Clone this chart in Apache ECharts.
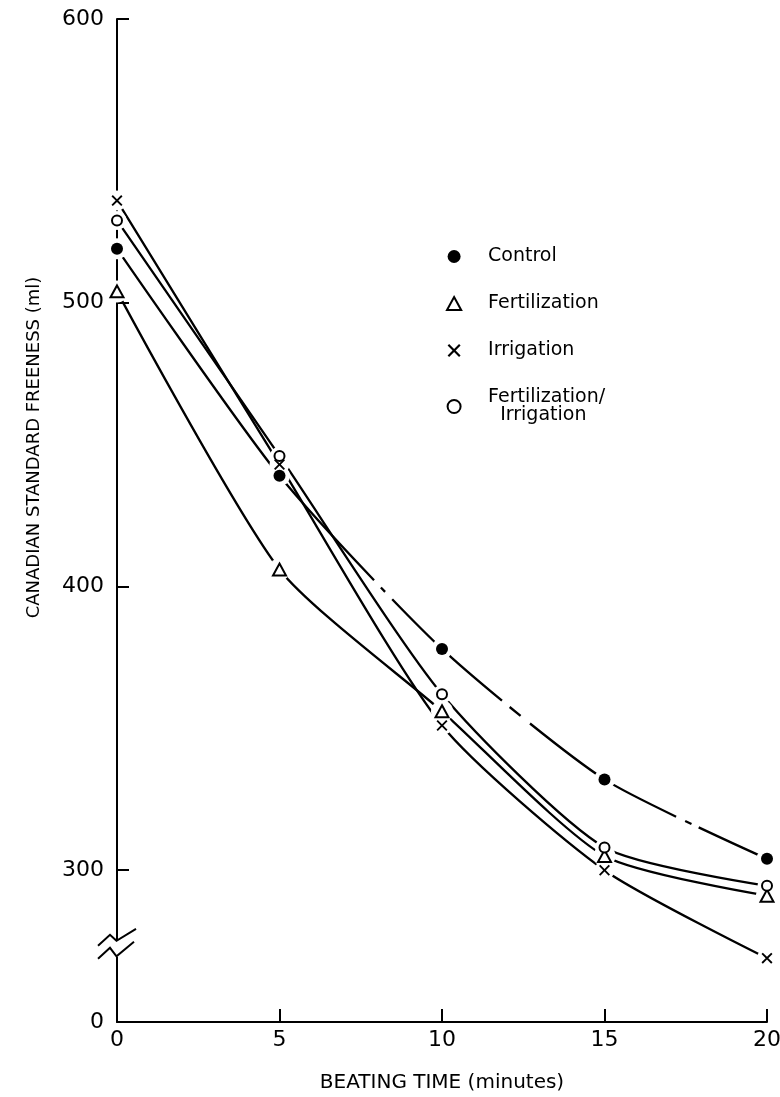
<!DOCTYPE html>
<html>
<head>
<meta charset="utf-8">
<script src="https://cdn.jsdelivr.net/npm/echarts@6/dist/echarts.min.js"></script>
<style>
html,body{margin:0;padding:0;background:#fff;}
#chart{width:780px;height:1097px;}
</style>
</head>
<body>
<div id="chart"></div>
<script>
// ---- data ----
const minutes = [0, 5, 10, 15, 20];
const control = [519, 439, 378, 332, 304];
const fertilization = [504, 406, 356, 305, 291];
const irrigation = [536, 443, 351, 300, 269];
const fertIrrigation = [529, 446, 362, 308, 294.5];

const xTicks = [0, 5, 10, 15, 20];
const yTicks = [300, 400, 500, 600];
const yFloor = 246.5;          // broken axis: bottom of the axis is labelled "0"
const yFloorLabel = '0';
const yBreakValue = 273;       // where the break symbol sits on the axis

const seriesNames = ['Control', 'Fertilization', 'Irrigation', 'Fertilization/Irrigation'];
const seriesValues = [control, fertilization, irrigation, fertIrrigation];

const FONT = 'DejaVu Sans';
const xPath = 'path://M0,1.2L1.2,0L5,3.8L8.8,0L10,1.2L6.2,5L10,8.8L8.8,10L5,6.2L1.2,10L0,8.8L3.8,5Z';
const triPath = 'path://M6,0L12,11L0,11Z';

const markerStyle = [
  { symbol: 'circle', legendIcon: 'circle', size: 12, itemStyle: { color: '#000', borderWidth: 0, opacity: 1 } },
  { symbol: triPath, legendIcon: triPath, size: 13, itemStyle: { color: '#fff', borderColor: '#000', borderWidth: 2, opacity: 1 } },
  { symbol: xPath, legendIcon: xPath, size: 11, itemStyle: { color: '#000', borderWidth: 0, opacity: 1 } },
  { symbol: 'circle', legendIcon: 'circle', size: 10, itemStyle: { color: '#fff', borderColor: '#000', borderWidth: 2, opacity: 1 } }
];
// control curve: hand-drawn dash–dot breaks
const lineTypes = [[420, 10, 6, 10, 150, 10, 14, 12, 174, 10, 7, 8, 300], 'solid', 'solid', 'solid'];

function pairs(vals) { return minutes.map((m, i) => [m, vals[i]]); }

const series = [];
seriesNames.forEach((name, i) => {
  series.push({
    type: 'line', name: name, data: pairs(seriesValues[i]),
    symbol: 'none', showSymbol: false, smooth: 0.22, z: 2, silent: true,
    lineStyle: { color: '#000', width: 2.3, type: lineTypes[i] }
  });
});
seriesNames.forEach((name, i) => {
  series.push({
    type: 'scatter', name: '_halo' + i, data: pairs(seriesValues[i]),
    symbol: 'circle', symbolSize: markerStyle[i].size + 9, z: 3, silent: true,
    itemStyle: { color: '#fff', borderWidth: 0, opacity: 1 }
  });
});
seriesNames.forEach((name, i) => {
  series.push({
    type: 'scatter', name: name, data: pairs(seriesValues[i]),
    symbol: markerStyle[i].symbol, symbolSize: markerStyle[i].size, symbolKeepAspect: true,
    z: 4, silent: true, itemStyle: markerStyle[i].itemStyle
  });
});

const chart = echarts.init(document.getElementById('chart'), null, { renderer: 'canvas' });
const option = {
  animation: false,
  backgroundColor: '#fff',
  textStyle: { fontFamily: FONT, color: '#000' },
  grid: { left: 117, right: 13, top: 19, bottom: 75, containLabel: false, outerBoundsMode: 'none' },
  legend: {
    orient: 'vertical', left: 441, top: 242, padding: 5,
    itemWidth: 58, itemHeight: 13, itemGap: 28, align: 'left',
    selectedMode: false, symbolKeepAspect: true,
    textStyle: { fontFamily: FONT, fontSize: 19, color: '#000', lineHeight: 18 },
    formatter: n => (n === 'Fertilization/Irrigation' ? 'Fertilization/\n  Irrigation' : n),
    data: seriesNames.map((n, i) => ({
      name: n, icon: markerStyle[i].legendIcon,
      itemStyle: Object.assign({}, markerStyle[i].itemStyle)
    }))
  },
  xAxis: {
    type: 'value', min: 0, max: 20,
    name: 'BEATING TIME (minutes)', nameLocation: 'middle', nameGap: 51,
    nameTextStyle: { fontFamily: FONT, fontSize: 20, color: '#000' },
    axisLine: { show: true, lineStyle: { color: '#000', width: 2 } },
    axisTick: { show: true, inside: true, length: 13, lineStyle: { color: '#000', width: 2 }, customValues: xTicks },
    axisLabel: { show: true, margin: 7, fontFamily: FONT, fontSize: 22, color: '#000', customValues: xTicks },
    splitLine: { show: false }
  },
  yAxis: {
    type: 'value', min: yFloor, max: 600,
    name: 'CANADIAN STANDARD FREENESS (ml)', nameLocation: 'middle', nameRotate: 90, nameGap: 74,
    nameTextStyle: { fontFamily: FONT, fontSize: 18, color: '#000', padding: [0, 0, 0, 146] },
    axisLine: { show: true, lineStyle: { color: '#000', width: 2 } },
    axisTick: { show: true, inside: true, length: 12, lineStyle: { color: '#000', width: 2 }, customValues: yTicks },
    axisLabel: {
      show: true, margin: 13, fontFamily: FONT, fontSize: 22, color: '#000',
      customValues: [yFloor].concat(yTicks),
      formatter: v => (v < yTicks[0] ? yFloorLabel : String(v))
    },
    splitLine: { show: false }
  },
  series: series
};
chart.setOption(option);

// break symbol on the y axis
const p = chart.convertToPixel({ gridIndex: 0 }, [0, yBreakValue]);
const cx = p[0], cy = p[1];
function pts(arr) { return arr.map(a => [cx + a[0], cy + a[1]]); }
chart.setOption({
  graphic: [
    { type: 'rect', shape: { x: cx - 3, y: cy - 6, width: 6, height: 16 }, style: { fill: '#fff' }, z: 10, silent: true },
    { type: 'polyline', shape: { points: pts([[-19, -1], [-7, -12], [-0.5, -6], [19, -18]]) },
      style: { stroke: '#000', lineWidth: 2, fill: null }, z: 11, silent: true },
    { type: 'polyline', shape: { points: pts([[-19, 12], [-7, 1], [-0.5, 9.5], [17, -5]]) },
      style: { stroke: '#000', lineWidth: 2, fill: null }, z: 11, silent: true }
  ]
});
</script>
</body>
</html>
